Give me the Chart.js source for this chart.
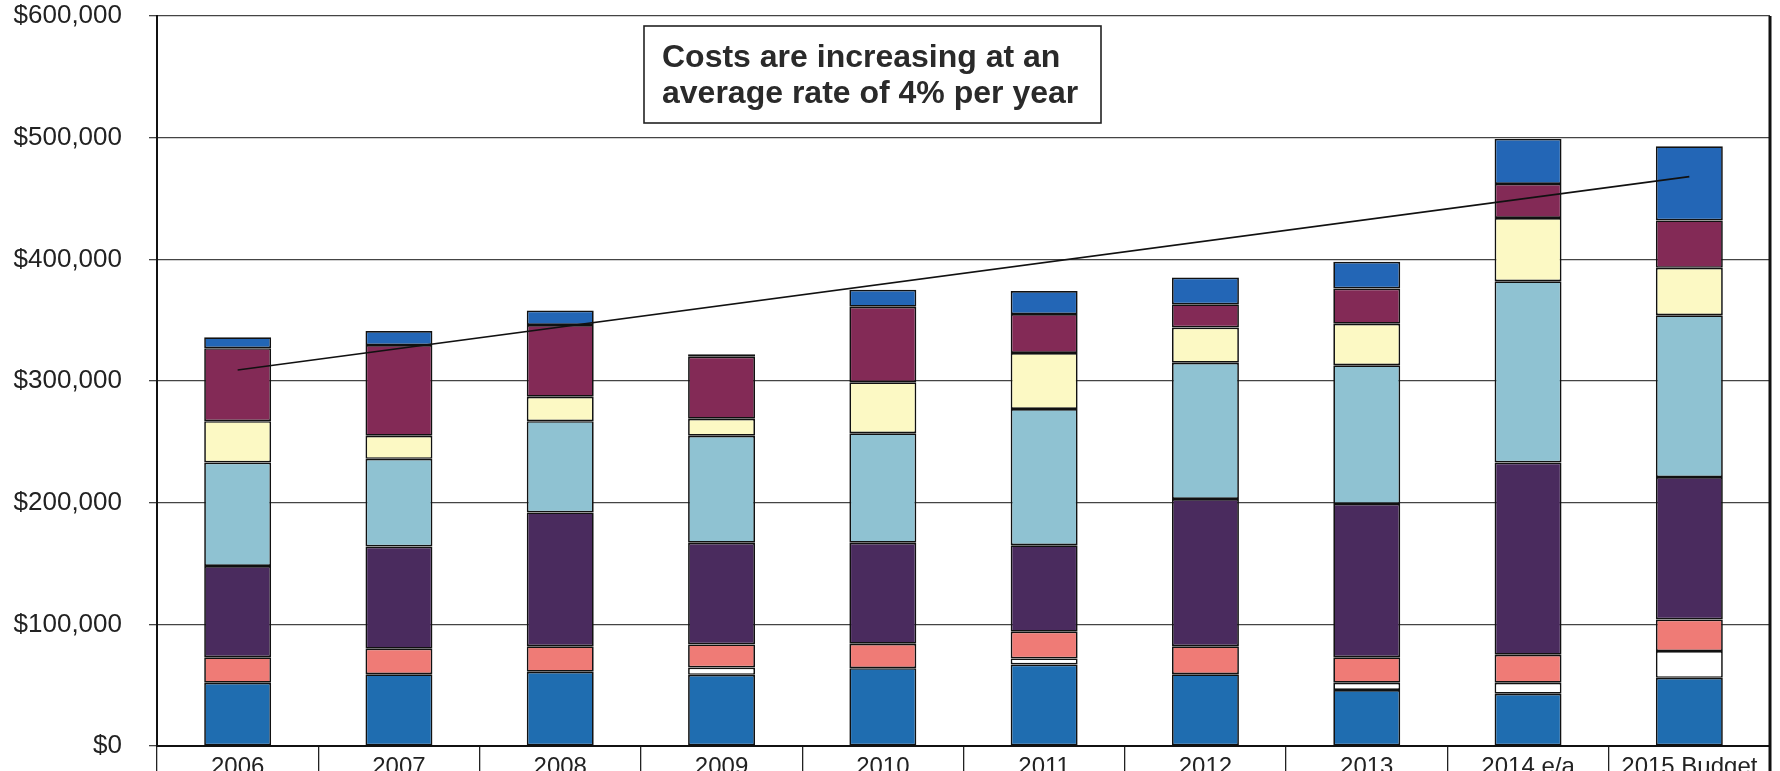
<!DOCTYPE html>
<html>
<head>
<meta charset="utf-8">
<script src="https://cdn.jsdelivr.net/npm/chart.js@4.4.0/dist/chart.umd.min.js"></script>
<style>
  html, body { margin: 0; padding: 0; background: #fff; overflow: hidden; }
  #wrap { position: relative; width: 1780px; height: 790px; }
</style>
</head>
<body>
<div id="wrap"><canvas id="costChart"></canvas></div>
<script>
// years along the bottom
const categories = ['2006', '2007', '2008', '2009', '2010', '2011', '2012', '2013', '2014 e/a', '2015 Budget'];

// stacked segments, bottom to top
const blueBase   = [52000, 59000, 61000, 58500, 64000, 67000, 59000, 46000, 43000, 56000];
const whiteSeg   = [0, 0, 0, 6000, 0, 5000, 0, 6000, 9000, 22000];
const salmon     = [21000, 21000, 21000, 19000, 20000, 22000, 23000, 21000, 23000, 26000];
const darkPurple = [75000, 84000, 110000, 83500, 83000, 71000, 121000, 126000, 158000, 117000];
const lightBlue  = [85000, 72000, 75000, 88000, 90000, 112000, 112000, 114000, 149000, 133000];
const yellow     = [34000, 19000, 20000, 14000, 42000, 46000, 29000, 34000, 52000, 39000];
const maroon     = [60000, 74500, 59000, 51000, 62000, 32000, 19000, 29000, 28000, 39000];
const blueTop    = [9000, 11500, 12000, 2000, 14000, 19000, 22000, 22000, 37000, 61000];

// trend line, only the two ends are drawn
const trendLine = [309000, null, null, null, null, null, null, null, null, 468000];

const yTicks = [0, 100000, 200000, 300000, 400000, 500000, 600000];

const FONT = "'Liberation Sans', Arial, sans-serif";

function barSet(data, color) {
  return {
    type: 'bar',
    data: data,
    backgroundColor: color,
    borderColor: '#111',
    borderWidth: 1.7,
    borderSkipped: false,
    barPercentage: 0.415,
    categoryPercentage: 1.0
  };
}

// comment box, plus the frame on the right
const extras = {
  id: 'extras',
  afterDraw(chart) {
    const ctx = chart.ctx;
    const a = chart.chartArea;
    ctx.save();
    ctx.strokeStyle = '#111';
    ctx.lineWidth = 3;
    ctx.beginPath();
    ctx.moveTo(a.right, a.top);
    ctx.lineTo(a.right, chart.height);
    ctx.stroke();

    ctx.fillStyle = '#fff';
    ctx.fillRect(644, 26, 457, 97);
    ctx.lineWidth = 1.6;
    ctx.strokeStyle = '#222';
    ctx.strokeRect(644, 26, 457, 97);

    ctx.fillStyle = '#2a2a2a';
    ctx.font = 'bold 32px ' + FONT;
    ctx.textAlign = 'left';
    ctx.textBaseline = 'alphabetic';
    ctx.fillText('Costs are increasing at an', 662, 67);
    ctx.fillText('average rate of 4% per year', 662, 103);
    ctx.restore();
  }
};

const ctx = document.getElementById('costChart').getContext('2d');
new Chart(ctx, {
  data: {
    labels: categories,
    datasets: [
      {
        type: 'line',
        data: trendLine,
        stack: 'trend',
        borderColor: '#111',
        borderWidth: 1.6,
        pointRadius: 0,
        spanGaps: true,
        order: -1
      },
      barSet(blueBase, '#1f6db0'),
      barSet(whiteSeg, '#ffffff'),
      barSet(salmon, '#ef7b76'),
      barSet(darkPurple, '#4a2b5e'),
      barSet(lightBlue, '#8fc2d2'),
      barSet(yellow, '#fcf9c4'),
      barSet(maroon, '#832a56'),
      barSet(blueTop, '#2366b6')
    ]
  },
  options: {
    responsive: true,
    maintainAspectRatio: false,
    animation: false,
    layout: { padding: { top: 16, right: 10, left: 0, bottom: 0 } },
    plugins: {
      legend: { display: false },
      tooltip: { enabled: false }
    },
    scales: {
      x: {
        stacked: true,
        offset: true,
        afterFit(scale) { scale.height = 44; },
        grid: {
          offset: true,
          drawOnChartArea: false,
          color: '#222',
          lineWidth: 1.3,
          tickLength: 44
        },
        border: { color: '#111', width: 2 },
        ticks: {
          padding: -37,
          color: '#222',
          font: { family: FONT, size: 24 }
        }
      },
      y: {
        stacked: true,
        min: 0,
        max: 600000,
        afterFit(scale) {
          scale.width = 157;
          scale.paddingTop = 0;
          scale.paddingBottom = 0;
        },
        afterBuildTicks(scale) { scale.ticks = yTicks.map(v => ({ value: v })); },
        grid: {
          color: '#444',
          lineWidth: 1.3,
          tickLength: 8
        },
        border: { color: '#111', width: 2 },
        ticks: {
          padding: 27,
          color: '#222',
          font: { family: FONT, size: 26 },
          callback: v => '$' + v.toLocaleString('en-US')
        }
      }
    }
  },
  plugins: [extras]
});
</script>
</body>
</html>
